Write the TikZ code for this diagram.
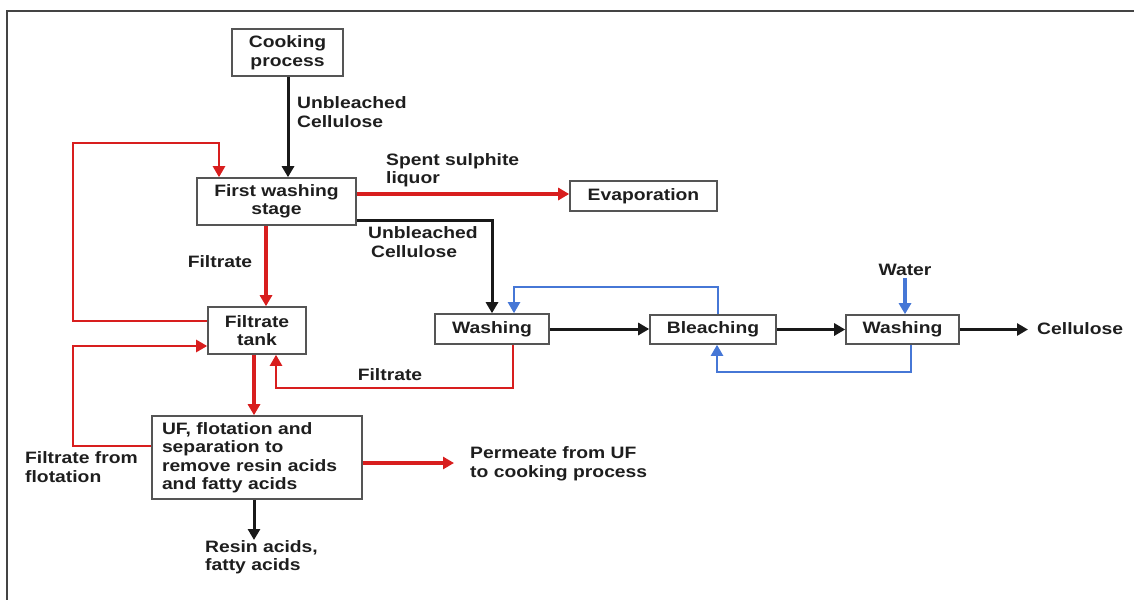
\documentclass[tikz,border=0pt]{standalone}
\usepackage{fontspec}
\setmainfont{Liberation Sans}[FakeStretch=1.17]
\usetikzlibrary{arrows.meta}
\definecolor{flowred}{HTML}{D81E1E}
\definecolor{flowblue}{HTML}{4677D6}
\definecolor{boxgrey}{HTML}{555555}
\definecolor{txt}{HTML}{1E1E1E}
\begin{document}
\begin{tikzpicture}[x=1pt,y=1pt,
  every node/.style={font=\fontsize{16.5}{18.5}\selectfont\bfseries, text=txt},
  unit/.style={draw=boxgrey, line width=1.6pt, inner sep=0pt, align=center},
  lbl/.style={inner sep=0pt, align=left},
  tip/.style={-{Triangle[length=11pt,width=12pt]}},
  blackflow/.style={tip, draw=black!90, line width=3pt},
  redflow/.style={tip, draw=flowred, line width=3.2pt},
  redline/.style={draw=flowred, line width=2.4pt},
  blueline/.style={draw=flowblue, line width=2.2pt},
  blueflow/.style={tip, draw=flowblue, line width=3.2pt}]
\useasboundingbox (0,0) rectangle (1134,-600);
% frame
\draw[boxgrey!80!black, line width=2.2pt] (1134,-11) -- (7,-11) -- (7,-600);

% process units
\node[unit, minimum width=111pt, minimum height=47pt] (cook) at (287.5,-52.5) {Cooking\\process};
\node[unit, minimum width=159pt, minimum height=47pt] (fws) at (276.5,-201.5) {First washing\\stage};
\node[unit, minimum width=147pt, minimum height=30pt] (evap) at (643.5,-196) {Evaporation};
\node[unit, minimum width=98pt, minimum height=47pt] (ftank) at (257,-330.5) {Filtrate\\tank};
\node[unit, minimum width=210pt, minimum height=83pt, align=left, text width=190pt] (uf) at (257,-457.5)
  {UF, flotation and\\separation to\\remove resin acids\\and fatty acids};
\node[unit, minimum width=114pt, minimum height=30pt] (wash1) at (492,-329) {Washing};
\node[unit, minimum width=126pt, minimum height=29pt] (bleach) at (713,-329.5) {Bleaching};
\node[unit, minimum width=113pt, minimum height=29pt] (wash2) at (902.5,-329.5) {Washing};

% free ends
\coordinate (resin) at (254,-540);
\coordinate (water) at (905,-278);
\coordinate (cellend) at (1028,-329.5);
\coordinate (permend) at (454,-463);

% labels
\node[lbl, anchor=west] (lubc1) at (297,-112) {Unbleached\\Cellulose};
\node[lbl, anchor=west] (lssl) at (386,-170) {Spent sulphite\\liquor};
\node[lbl, anchor=west] (lubc2) at (368,-242) {Unbleached\\\hspace*{3pt}Cellulose};
\node[lbl] (lfil1) at (220,-262) {Filtrate};
\node[lbl] (lfil2) at (390,-375) {Filtrate};
\node[lbl, anchor=west] (lflot) at (25,-467) {Filtrate from\\flotation};
\node[lbl, anchor=west] (lresin) at (205,-557) {Resin acids,\\fatty acids};
\node[lbl] (lwater) at (905,-270) {Water};
\node[lbl, anchor=west] (lcell) at (1037,-329) {Cellulose};
\node[lbl, anchor=west] (lperm) at (470,-464) {Permeate from UF\\to cooking process};

% main cellulose line
\draw[blackflow] ([xshift=0.5pt]cook.south) -- ([xshift=0.5pt]cook.south |- fws.north);
\draw[blackflow] ([yshift=-18.5pt]fws.east) -| (wash1.north);
\draw[blackflow] (wash1.east) -- (bleach.west |- wash1.east);
\draw[blackflow] (bleach.east) -- (wash2.west);
\draw[blackflow] (wash2.east) -- (cellend);
\draw[blackflow] ([xshift=-3pt]uf.south) -- (resin);

% filtrate circuit
\draw[redline, tip] ([yshift=9.5pt]ftank.west) -| (73,-143) -| ([xshift=-57.5pt]fws.north);
\draw[redflow] ([xshift=-10.5pt]fws.south) -- ([xshift=-10.5pt]fws.south |- ftank.north);
\draw[redflow] ([yshift=7.5pt]fws.east) -- ([yshift=7.5pt]fws.east -| evap.west);
\draw[redflow] ([xshift=-3pt]ftank.south) -- ([xshift=-3pt]ftank.south |- uf.north);
\draw[redline, tip] ([yshift=11.5pt]uf.west) -| (73,-346) -- ([yshift=-15.5pt]ftank.west);
\draw[redline, tip] ([xshift=21pt]wash1.south) |- (276,-388) -- ([xshift=19pt]ftank.south);
\draw[redflow] ([yshift=-5.5pt]uf.east) -- (permend);

% bleaching water circuit
\draw[blueline, tip] ([xshift=5pt]bleach.north) |- (514,-287) -- ([xshift=22pt]wash1.north);
\draw[blueflow] (water) -- ([xshift=2.5pt]wash2.north);
\draw[blueline, tip] ([xshift=8.5pt]wash2.south) |- (717,-372) -- ([xshift=4pt]bleach.south);
\end{tikzpicture}
\end{document}
